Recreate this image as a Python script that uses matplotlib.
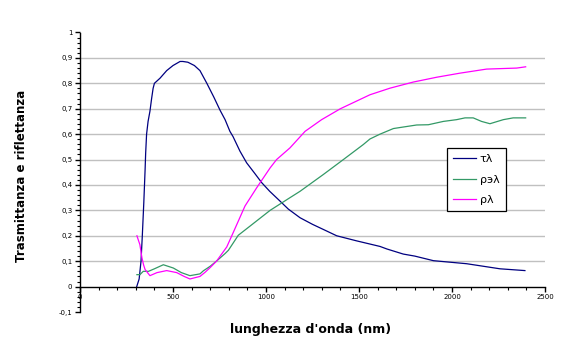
import matplotlib.pyplot as plt
from matplotlib.ticker import MultipleLocator, FuncFormatter

## Data ##
# tau lambda (trasmittanza)
WL_TAU = [305, 318, 328, 335, 343, 350, 353, 358, 366, 376, 385, 393, 400, 430,
          466, 500, 538, 553, 580, 615, 645, 682, 720, 753, 780, 806, 823, 860,
          896, 940, 977, 1020, 1066, 1120, 1183, 1250, 1308, 1380, 1487, 1613,
          1650, 1738, 1800, 1900, 2079, 2258, 2392]
TAU = [0.0, 0.03, 0.1, 0.2, 0.33, 0.46, 0.525, 0.6, 0.65, 0.69, 0.74, 0.78, 0.80,
       0.82, 0.85, 0.87, 0.886, 0.886, 0.883, 0.87, 0.85, 0.80, 0.745, 0.694,
       0.657, 0.611, 0.59, 0.533, 0.487, 0.445, 0.409, 0.375, 0.343, 0.305,
       0.271, 0.245, 0.225, 0.2, 0.18, 0.158, 0.148, 0.128, 0.12, 0.102, 0.09,
       0.07, 0.063]

# rho e lambda
WL_RHOE = [306, 322, 340, 368, 400, 448, 502, 545, 591, 645, 663, 700, 735, 780,
           798, 851, 914, 1022, 1129, 1183, 1308, 1416, 1523, 1559, 1613, 1685,
           1738, 1810, 1873, 1953, 2025, 2070, 2114, 2159, 2204, 2276, 2329, 2396]
RHOE = [0.047, 0.047, 0.06, 0.06, 0.07, 0.086, 0.073, 0.055, 0.043, 0.05, 0.062,
        0.08, 0.101, 0.13, 0.143, 0.202, 0.238, 0.3, 0.35, 0.375, 0.441, 0.5,
        0.559, 0.581, 0.6, 0.622, 0.628, 0.636, 0.637, 0.65, 0.657, 0.664,
        0.664, 0.65, 0.641, 0.657, 0.664, 0.664]

# rho lambda (riflettanza)
WL_RHO = [306, 322, 333, 342, 350, 376, 414, 466, 520, 560, 591, 645, 672, 700,
          735, 789, 824, 887, 950, 1022, 1057, 1129, 1210, 1299, 1400, 1559,
          1667, 1792, 1918, 2043, 2186, 2348, 2396]
RHO = [0.2, 0.165, 0.113, 0.085, 0.067, 0.043, 0.055, 0.063, 0.055, 0.04, 0.03,
       0.04, 0.056, 0.075, 0.101, 0.156, 0.213, 0.317, 0.389, 0.467, 0.5, 0.546,
       0.611, 0.657, 0.70, 0.755, 0.781, 0.805, 0.824, 0.84, 0.856, 0.86, 0.865]

LABELS = ['\u03c4\u03bb', '\u03c1\u044d\u03bb', '\u03c1\u03bb']


def ylab(v, pos):
    if abs(v) < 1e-9:
        return '0'
    if abs(v - 1) < 1e-9:
        return '1'
    return ('%.1f' % v).replace('.', ',')


## Figure ##
fig = plt.figure(figsize=(5.69, 3.52), dpi=100)
ax = fig.add_axes([80 / 569, 1 - 312 / 352, 465 / 569, 279.5 / 352])

ax.plot(WL_TAU, TAU, color='#000080', lw=0.9, label=LABELS[0])
ax.plot(WL_RHOE, RHOE, color='#339966', lw=0.9, label=LABELS[1])
ax.plot(WL_RHO, RHO, color='#ff00ff', lw=0.9, label=LABELS[2])

ax.set_xlim(0, 2500)
ax.set_ylim(-0.1, 1)

ax.spines['top'].set_visible(False)
ax.spines['right'].set_visible(False)
ax.spines['bottom'].set_position(('data', 0))
ax.spines['left'].set_linewidth(1)
ax.spines['bottom'].set_linewidth(1)

ax.xaxis.set_major_locator(MultipleLocator(500))
ax.xaxis.set_minor_locator(MultipleLocator(100))
ax.yaxis.set_major_locator(MultipleLocator(0.1))
ax.yaxis.set_minor_locator(MultipleLocator(0.02))

ax.yaxis.set_major_formatter(FuncFormatter(ylab))
ax.xaxis.set_major_formatter(FuncFormatter(lambda v, p: '%d' % v))

ax.tick_params(axis='both', which='major', direction='out', length=3.5, width=1,
               labelsize=5, pad=2)
ax.tick_params(axis='both', which='minor', direction='out', length=2, width=0.8)

ax.grid(True, axis='y', color='#c0c0c0', lw=1)
for v, gl in zip(ax.get_yticks(), ax.get_ygridlines()):
    if v < 0.05 or v > 0.95:
        gl.set_visible(False)

fig.text(22 / 569, 1 - 176 / 352, 'Trasmittanza e riflettanza', rotation=90,
         ha='center', va='center', fontsize=8.5, fontweight='bold')
fig.text(311 / 569, 1 - 330 / 352, "lunghezza d'onda (nm)", ha='center',
         va='center', fontsize=9, fontweight='bold')

leg = ax.legend(loc='upper left', bbox_to_anchor=(447 / 569, 1 - 148 / 352),
                bbox_transform=fig.transFigure, borderaxespad=0, fontsize=8,
                handlelength=2.1, handletextpad=0.3, fancybox=False,
                framealpha=1, edgecolor='black', labelspacing=0.95,
                borderpad=0.55)
leg.get_frame().set_linewidth(0.9)

fig.savefig('out.png', dpi=100)
